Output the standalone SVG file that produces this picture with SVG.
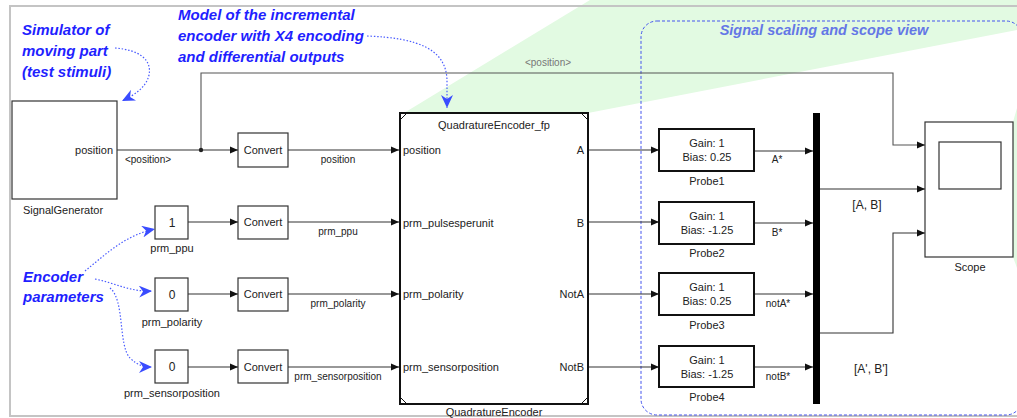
<svg xmlns="http://www.w3.org/2000/svg" width="1017" height="418" viewBox="0 0 1017 418">
<style>
.lbl{font-family:"Liberation Sans",Arial,sans-serif;font-size:11px;fill:#222}
.sm{font-family:"Liberation Sans",Arial,sans-serif;font-size:10px;fill:#222}
.mid{text-anchor:middle}
.end{text-anchor:end}
.ann{font-family:"Liberation Sans",Arial,sans-serif;font-size:15px;font-weight:bold;font-style:italic;fill:#1f1fff}
.blk{fill:#fff;stroke:#333;stroke-width:1.2}
.thick{fill:#fff;stroke:#111;stroke-width:2}
.wire{fill:none;stroke:#333;stroke-width:1.1}
.dot{fill:none;stroke:#4a5cff;stroke-width:1.2;stroke-dasharray:1.5 1.8}
</style>
<defs>
<marker id="ar" markerUnits="userSpaceOnUse" markerWidth="9" markerHeight="8" refX="8" refY="4" orient="auto"><path d="M0,0.5 L8,4 L0,7.5 z" fill="#111"/></marker>
<marker id="ba" markerUnits="userSpaceOnUse" markerWidth="14" markerHeight="12" refX="13" refY="6" orient="auto"><path d="M0,0 L13,6 L0,12 L4,6 z" fill="#3a4cff"/></marker>
</defs>
<rect width="1017" height="418" fill="#fff"/>
<g id="highlight">
<polygon points="590,0 1017,0 1017,30 588,113 404,113" fill="#e2fae2"/>
<polygon points="1017,108 1013,122 1013,257 1017,268" fill="#e2fae2"/>
</g>
<rect x="10" y="6" width="1030" height="410" fill="none" stroke="#c4c4c4" stroke-width="2"/>
<g id="scaling-group">
<rect x="641" y="21" width="381" height="394" rx="16" fill="none" stroke="#4455ee" stroke-width="1" stroke-dasharray="3 2"/>
<text x="824" y="35" class="ann mid" style="font-size:14.5px;fill:#6477e6">Signal scaling and scope view</text>
</g>
<g id="annotations">
<text class="ann" x="22" y="35">Simulator of</text>
<text class="ann" x="22" y="56">moving part</text>
<text class="ann" x="22" y="77">(test stimuli)</text>
<text class="ann" x="178" y="20">Model of the incremental</text>
<text class="ann" x="178" y="41">encoder with X4 encoding</text>
<text class="ann" x="178" y="62">and differential outputs</text>
<text class="ann" x="23" y="282">Encoder</text>
<text class="ann" x="23" y="302">parameters</text>
<path class="dot" d="M115,48 C140,50 152,60 149,75 C146,88 134,95 122,101" marker-end="url(#ba)"/>
<path class="dot" d="M367,36 C420,38 446,50 447,80 L447,108" marker-end="url(#ba)"/>
<path class="dot" d="M85,271 C105,255 125,235 155,229" marker-end="url(#ba)"/>
<path class="dot" d="M95,279 C115,283 130,292 152,291" marker-end="url(#ba)"/>
<path class="dot" d="M110,288 C125,300 118,345 130,358 C138,366 145,367 152,367" marker-end="url(#ba)"/>
</g>
<g id="connectors">
<path class="wire" d="M117,150 L238,150" marker-end="url(#ar)"/>
<path class="wire" d="M201,150 L201,73 L893,73 L893,145 L925,145" marker-end="url(#ar)" style="stroke:#555"/>
<circle cx="201" cy="150" r="2.2" fill="#222"/>
<path class="wire" d="M288,150 L399,150" marker-end="url(#ar)"/>
<path class="wire" d="M188,222 L238,222" marker-end="url(#ar)"/>
<path class="wire" d="M288,222 L399,222" marker-end="url(#ar)"/>
<path class="wire" d="M188,294 L238,294" marker-end="url(#ar)"/>
<path class="wire" d="M288,294 L399,294" marker-end="url(#ar)"/>
<path class="wire" d="M188,367 L238,367" marker-end="url(#ar)"/>
<path class="wire" d="M288,367 L399,367" marker-end="url(#ar)"/>
<path class="wire" d="M588,150 L659,150" marker-end="url(#ar)"/>
<path class="wire" d="M588,222 L659,222" marker-end="url(#ar)"/>
<path class="wire" d="M588,294 L659,294" marker-end="url(#ar)"/>
<path class="wire" d="M588,367 L659,367" marker-end="url(#ar)"/>
<path class="wire" d="M754,151 L813,151" marker-end="url(#ar)"/>
<path class="wire" d="M754,223 L813,223" marker-end="url(#ar)"/>
<path class="wire" d="M754,294 L813,294" marker-end="url(#ar)"/>
<path class="wire" d="M754,367 L813,367" marker-end="url(#ar)"/>
<path class="wire" d="M820,189 L925,189" marker-end="url(#ar)"/>
<path class="wire" d="M820,333 L893,333 L893,233 L925,233" marker-end="url(#ar)"/>
<text class="sm mid" x="148" y="163">&lt;position&gt;</text>
<text class="sm mid" x="548" y="66" style="fill:#777">&lt;position&gt;</text>
<text class="sm mid" x="338" y="163">position</text>
<text class="sm mid" x="338" y="235">prm_ppu</text>
<text class="sm mid" x="338" y="307">prm_polarity</text>
<text class="sm mid" x="338" y="380">prm_sensorposition</text>
<text class="sm mid" x="777" y="163">A*</text>
<text class="sm mid" x="777" y="236">B*</text>
<text class="sm mid" x="778" y="307">notA*</text>
<text class="sm mid" x="778" y="380">notB*</text>
<text class="lbl mid" x="867" y="209" style="font-size:12px">[A, B]</text>
<text class="lbl mid" x="871" y="373" style="font-size:12px">[A', B']</text>
</g>
<g id="SignalGenerator">
<rect class="blk" x="12" y="101" width="105" height="98"/>
<text class="lbl end" x="113" y="154">position</text>
<text class="lbl mid" x="63" y="214">SignalGenerator</text>
</g>
<g id="prm_ppu">
<rect class="blk" x="155" y="206" width="33" height="33"/>
<text class="lbl mid" x="172" y="227" style="font-size:12px">1</text>
<text class="lbl mid" x="172" y="252">prm_ppu</text>
</g>
<g id="prm_polarity">
<rect class="blk" x="155" y="278" width="33" height="33"/>
<text class="lbl mid" x="172" y="299" style="font-size:12px">0</text>
<text class="lbl mid" x="172" y="326">prm_polarity</text>
</g>
<g id="prm_sensorposition">
<rect class="blk" x="155" y="350" width="33" height="33"/>
<text class="lbl mid" x="172" y="371" style="font-size:12px">0</text>
<text class="lbl mid" x="172" y="397">prm_sensorposition</text>
</g>
<g id="Convert1"><rect class="blk" x="238" y="133" width="50" height="34"/><text class="lbl mid" x="263" y="154">Convert</text></g>
<g id="Convert2"><rect class="blk" x="238" y="206" width="50" height="33"/><text class="lbl mid" x="263" y="226">Convert</text></g>
<g id="Convert3"><rect class="blk" x="238" y="278" width="50" height="33"/><text class="lbl mid" x="263" y="298">Convert</text></g>
<g id="Convert4"><rect class="blk" x="238" y="350" width="50" height="33"/><text class="lbl mid" x="263" y="371">Convert</text></g>
<g id="QuadratureEncoder">
<rect class="thick" x="400" y="113" width="188" height="291"/>
<path d="M400,120 L407,113 M581,113 L588,120 M400,397 L407,404 M581,404 L588,397" stroke="#111" stroke-width="1"/>
<text class="lbl mid" x="494" y="129">QuadratureEncoder_fp</text>
<text class="lbl" x="403" y="154">position</text>
<text class="lbl" x="403" y="227">prm_pulsesperunit</text>
<text class="lbl" x="403" y="298">prm_polarity</text>
<text class="lbl" x="403" y="371">prm_sensorposition</text>
<text class="lbl end" x="584" y="154">A</text>
<text class="lbl end" x="584" y="227">B</text>
<text class="lbl end" x="584" y="298">NotA</text>
<text class="lbl end" x="584" y="371">NotB</text>
<text class="lbl mid" x="494" y="416">QuadratureEncoder</text>
</g>
<g id="Probe1"><rect class="thick" x="659" y="129" width="95" height="42"/><text class="lbl mid" x="707" y="147">Gain: 1</text><text class="lbl mid" x="707" y="161">Bias: 0.25</text><text class="lbl mid" x="707" y="185">Probe1</text></g>
<g id="Probe2"><rect class="thick" x="659" y="202" width="95" height="42"/><text class="lbl mid" x="707" y="220">Gain: 1</text><text class="lbl mid" x="707" y="234">Bias: -1.25</text><text class="lbl mid" x="707" y="257">Probe2</text></g>
<g id="Probe3"><rect class="thick" x="659" y="273" width="95" height="42"/><text class="lbl mid" x="707" y="291">Gain: 1</text><text class="lbl mid" x="707" y="305">Bias: 0.25</text><text class="lbl mid" x="707" y="329">Probe3</text></g>
<g id="Probe4"><rect class="thick" x="659" y="346" width="95" height="41"/><text class="lbl mid" x="707" y="364">Gain: 1</text><text class="lbl mid" x="707" y="378">Bias: -1.25</text><text class="lbl mid" x="707" y="401">Probe4</text></g>
<g id="Mux"><rect x="813" y="113" width="7" height="291" fill="#000"/></g>
<g id="Scope">
<rect class="blk" x="925" y="122" width="88" height="135"/>
<rect class="blk" x="939" y="142" width="62" height="47"/>
<text class="lbl mid" x="970" y="271">Scope</text>
</g>
</svg>
